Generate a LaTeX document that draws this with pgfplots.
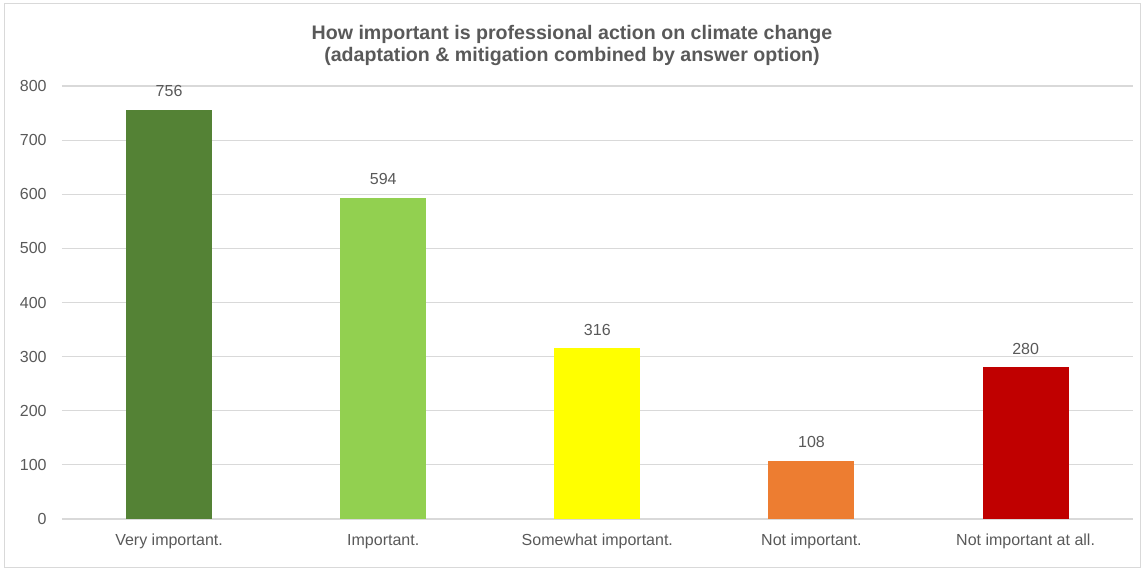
\documentclass[border=0pt]{standalone}
\usepackage{pgfplots}
\pgfplotsset{compat=1.18}
\usepackage{fontspec}
\setmainfont{Liberation Sans}

\definecolor{txt}{HTML}{595959}
\definecolor{gridc}{HTML}{D9D9D9}
\definecolor{c1}{HTML}{548235}
\definecolor{c2}{HTML}{92D050}
\definecolor{c3}{HTML}{FFFF00}
\definecolor{c4}{HTML}{ED7D31}
\definecolor{c5}{HTML}{C00000}

\begin{document}
\begin{tikzpicture}
	% frame of the chart area (1px = 0.75pt)
	\path (0,0) rectangle (858pt,428.25pt);
	\draw[gridc] (3pt,3pt) rectangle (855pt,425.5pt);

	\node[font=\fontsize{14.7}{16.5}\selectfont\bfseries, text=txt, align=center]
		at (429pt,394pt) {How important is professional action on climate change\\(adaptation \& mitigation combined by answer option)};

	\begin{axis}[
		at={(46.5pt,39pt)}, anchor=south west,
		scale only axis,
		width=803pt, height=324.75pt,
		xmin=-0.5, xmax=4.5,
		ymin=0, ymax=800,
		ytick={0,100,...,800},
		xtick={0,1,2,3,4},
		xticklabels={Very important., Important., Somewhat important., Not important., Not important at all.},
		ybar, bar width=64.5pt, bar shift=0pt,
		axis line style={draw=none},
		major tick length=0pt,
		ymajorgrids, grid style={gridc, line width=0.9pt},
		tick label style={text=txt, font=\fontsize{12}{14}\selectfont},
		/pgf/number format/assume math mode=true,
		xticklabel style={yshift=-7.5pt, text height=9pt, text depth=3pt},
		yticklabel style={xshift=-8pt},
		nodes near coords,
		every node near coord/.append style={text=txt, font=\fontsize{12}{14}\selectfont, yshift=6pt},
		clip=false,
	]
	\addplot[fill=c1, draw=none] coordinates {(0,756)};
	\addplot[fill=c2, draw=none] coordinates {(1,594)};
	\addplot[fill=c3, draw=none] coordinates {(2,316)};
	\addplot[fill=c4, draw=none] coordinates {(3,108)};
	\addplot[fill=c5, draw=none] coordinates {(4,280)};
	\end{axis}
\end{tikzpicture}
\end{document}
